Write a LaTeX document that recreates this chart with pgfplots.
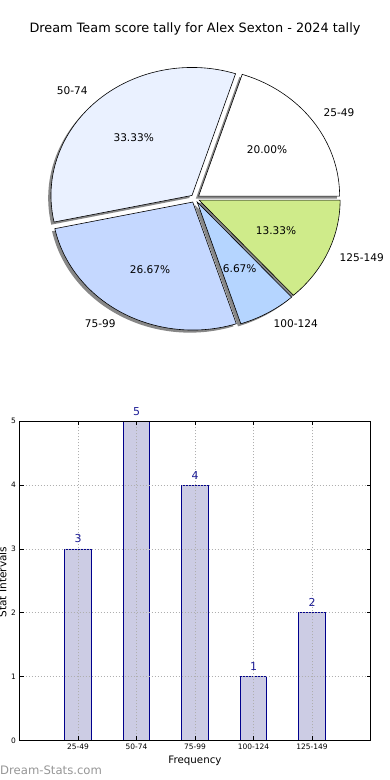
\documentclass[border=0pt]{standalone}
\usepackage{pgfplots}
\usepackage{pgfplotstable}
\pgfplotsset{compat=1.18}
\usepackage{fontspec}
\setmainfont{DejaVu Sans}
\definecolor{cA}{RGB}{255,255,255}
\definecolor{cB}{RGB}{234,241,255}
\definecolor{cC}{RGB}{197,216,255}
\definecolor{cD}{RGB}{181,213,255}
\definecolor{cE}{RGB}{207,235,138}
\definecolor{shd}{RGB}{135,135,135}
\definecolor{barfill}{RGB}{204,204,228}
\definecolor{baredge}{RGB}{0,0,140}
\definecolor{barlbl}{RGB}{30,30,150}
\definecolor{wm}{RGB}{150,150,150}
\definecolor{gridc}{RGB}{175,175,175}
% pie slices: start angle, end angle (from counts 3,5,4,1,2 of 15), centre x, centre y, colour
\newcommand\pieslice[5]{%
  \addplot[draw=black, line width=0.6bp, fill=#5, domain=#1:#2, samples=80]
    ({#3+141*cos(x)},{#4+128*sin(x)}) -- (axis cs:#3,#4) -- cycle;}
\newcommand\pieshadow[4]{%
  \addplot[draw=none, fill=shd, domain=#1:#2, samples=80]
    ({#3+141*cos(x)},{#4+128*sin(x)}) -- (axis cs:#3,#4) -- cycle;}
\pgfplotstableread{
x n
0 3
1 5
2 4
3 1
4 2
}\bardata
\begin{document}
\begin{tikzpicture}
\begin{axis}[at={(0,0)}, anchor=south west, scale only axis, x=1bp, y=1bp,
  xmin=0, xmax=390, ymin=0, ymax=780, hide axis, clip=false]
% shadows
\pieshadow{0}{72}{195.84}{581.31}
\pieshadow{72}{192}{189.19}{581.95}
\pieshadow{192}{288}{189.95}{575.35}
\pieshadow{288}{312}{194.45}{575.35}
\pieshadow{312}{360}{196.31}{577.23}
% slices
\pieslice{0}{72}{198.64}{583.91}{cA}
\pieslice{72}{192}{191.99}{584.55}{cB}
\pieslice{192}{288}{192.75}{577.95}{cC}
\pieslice{288}{312}{197.25}{577.95}{cD}
\pieslice{312}{360}{199.11}{579.83}{cE}
\path (axis cs:195,747.5) node[anchor=base, font=\fontsize{12.9}{15}\selectfont] {Dream Team score tally for Alex Sexton - 2024 tally};
\path[font=\fontsize{10.6}{12}\selectfont]
  (axis cs:267,630) node {20.00\%}
  (axis cs:133.7,642.3) node {33.33\%}
  (axis cs:150,510) node {26.67\%}
  (axis cs:239.7,511) node {6.67\%}
  (axis cs:276,549) node {13.33\%}
  (axis cs:339,667.7) node {25-49}
  (axis cs:72.3,689.3) node {50-74}
  (axis cs:100.3,456) node {75-99}
  (axis cs:295.8,456) node {100-124}
  (axis cs:361.7,522.7) node {125-149};
\path (axis cs:6.5,198) node[rotate=90, anchor=base, font=\fontsize{10.6}{12}\selectfont] {Stat Intervals};
\path (axis cs:0,5) node[anchor=base west, inner sep=0pt, text=wm, font=\fontsize{11.7}{13}\selectfont] {Dream-Stats.com};
\end{axis}
\begin{axis}[at={(19.5bp,39.7bp)}, anchor=south west, scale only axis,
  width=351bp, height=319bp, xmin=-1, xmax=5, ymin=0, ymax=5,
  ybar, bar width=0.45,
  xtick={0,1,2,3,4}, xticklabels={25-49,50-74,75-99,100-124,125-149},
  ytick={0,1,2,3,4,5},
  grid=major, major grid style={gridc, dash pattern=on 1bp off 2bp, line width=0.7bp},
  axis on top, tick align=inside, tick pos=both, major tick length=4bp,
  tick style={black, line width=0.5bp}, axis line style={line width=0.8bp},
  ticklabel style={font=\fontsize{7.5}{9}\selectfont},
  /pgf/number format/assume math mode=true,
  xlabel={Frequency}, xlabel style={font=\fontsize{10.3}{12}\selectfont},
  clip=false]
\addplot[fill=barfill, draw=baredge, line width=0.8bp,
  nodes near coords, nodes near coords style={text=barlbl, font=\fontsize{11}{13}\selectfont, anchor=south, inner sep=0pt, yshift=5.5bp}]
  table[x=x, y=n] {\bardata};
\end{axis}
\pgfresetboundingbox
\path[use as bounding box] (0,0) rectangle (390bp,780bp);
\end{tikzpicture}
\end{document}
